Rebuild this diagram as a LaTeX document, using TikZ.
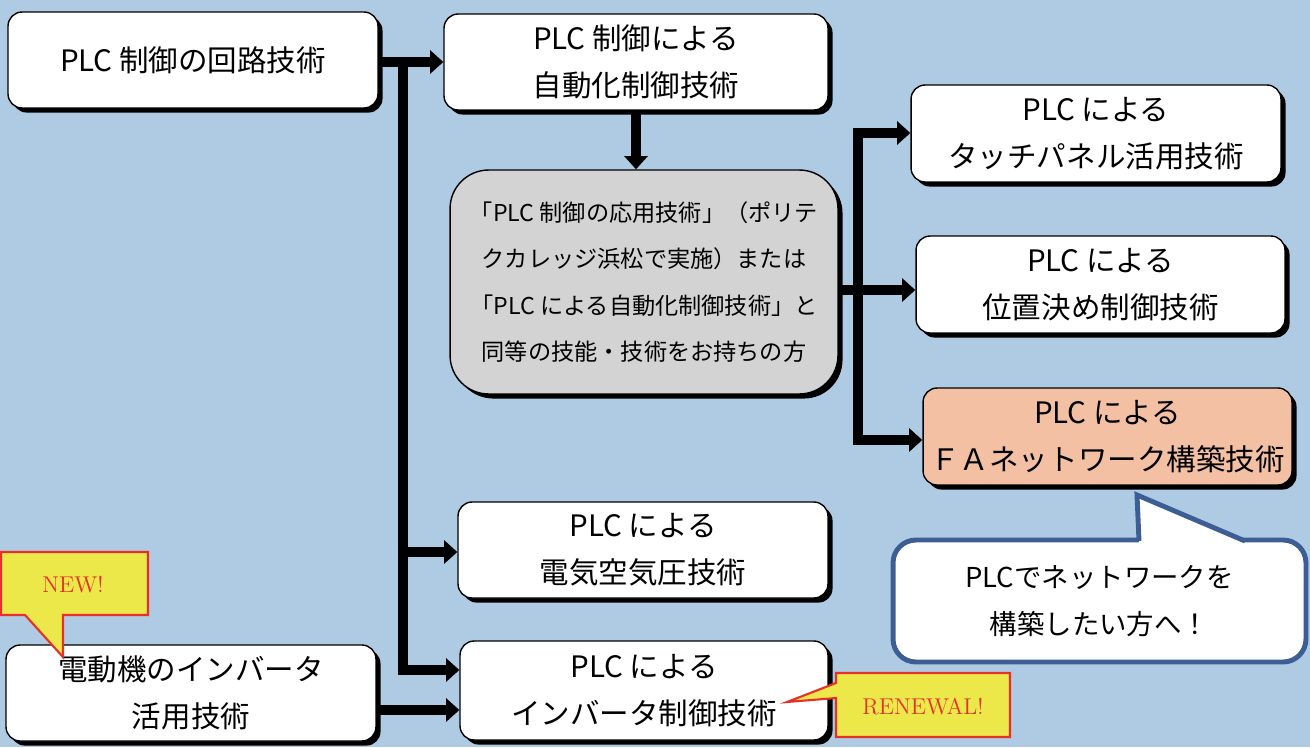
\documentclass[tikz,border=0pt]{standalone}
\usepackage{fontspec}
\newfontfamily\jp{Noto Sans CJK JP}
\usetikzlibrary{arrows.meta,shadows,calc}
\definecolor{bg}{HTML}{AFCBE3}
\definecolor{grayfill}{HTML}{D3D3D3}
\definecolor{orangefill}{HTML}{F3C0A4}
\definecolor{bubbleblue}{HTML}{3C5E95}
\definecolor{noteyellow}{HTML}{ECE84A}
\definecolor{notered}{HTML}{E8302A}
\begin{document}
\begin{tikzpicture}[x=0.02cm,y=-0.02cm,
  box/.style={draw=black, line width=0.8pt, fill=white, rounded corners=8pt,
    align=center, inner sep=0pt, anchor=center,
    font=\jp\fontsize{16.8}{26.6}\selectfont,
    drop shadow={shadow xshift=2.6pt, shadow yshift=-2.6pt, fill=black, opacity=1}},
  conn/.style={line width=5.67pt, line join=miter, -{Triangle[length=7.5pt,width=13pt]}},
  note/.style={draw=notered, line width=1.2pt, fill=noteyellow},
  notetext/.style={text=notered, font=\fontsize{13}{15}\selectfont, inner sep=0pt}]
\useasboundingbox (0,0) rectangle (1310,747);
\fill[bg] (0,0) rectangle (1310,747);

% boxes
\node[box, minimum width=7.4cm, minimum height=1.92cm] (A) at (193,60) {PLC 制御の回路技術};
\node[box, minimum width=7.68cm, minimum height=1.92cm] (B) at (636,62) {PLC 制御による\\自動化制御技術};
\node[box, fill=grayfill, rounded corners=22pt, minimum width=7.76cm, minimum height=4.48cm,
      font=\jp\fontsize{13.2}{26.5}\selectfont] (C) at (644,282)
  {「PLC 制御の応用技術」（ポリテ\\クカレッジ浜松で実施）または\\「PLC による自動化制御技術」と\\同等の技能・技術をお持ちの方};
\node[box, minimum width=7.4cm, minimum height=1.94cm] (D) at (1096,133.5) {PLC による\\タッチパネル活用技術};
\node[box, minimum width=7.38cm, minimum height=1.94cm] (E) at (1100.5,284.5) {PLC による\\位置決め制御技術};
\node[box, fill=orangefill, minimum width=7.38cm, minimum height=1.94cm] (F) at (1107.5,436.5) {PLC による\\ＦＡネットワーク構築技術};
\node[box, minimum width=7.4cm, minimum height=1.92cm] (G) at (643,550) {PLC による\\電気空気圧技術};
\node[box, minimum width=7.36cm, minimum height=1.98cm] (H) at (644,690.5) {PLC による\\インバータ制御技術};
\node[box, minimum width=7.4cm, minimum height=1.92cm] (I) at (191,693) {電動機のインバータ\\活用技術};

% junction coordinates
\coordinate (j1) at (403,62);
\coordinate (j2) at (403,552);
\coordinate (j3) at (403,670);
\coordinate (iy) at (420,710);
\coordinate (k1) at (858,133);
\coordinate (k2) at (858,290);
\coordinate (k3) at (858,440);

% connectors
\draw[conn] (j1 -| A.east) -- (j1 -| B.west);
\draw[conn, line cap=rect] (j1) -- (j3) -- (j3 -| H.west);
\draw[conn] (j2) -- (j2 -| G.west);
\draw[conn] (iy -| I.east) -- (iy -| H.west);
\draw[conn] (B.south) -- (B.south |- C.north);
\draw[conn] (k2 -| C.east) -- (k2 -| E.west);
\draw[conn, line cap=rect] (k3) -- (k1) -- (k1 -| D.west);
\draw[conn] (k3) -- (k3 -| F.west);

% speech bubble
\node[draw=bubbleblue, line width=2.8pt, fill=white, rounded corners=13pt,
      minimum width=8.26cm, minimum height=2.44cm, align=center, inner sep=0pt,
      font=\jp\fontsize{15.6}{27.2}\selectfont] (S) at (1099.5,601)
  {PLCでネットワークを\\構築したい方へ！};
\fill[white] (1139,540) -- (1137,495) -- (1243,540) -- (1243,549) -- (1139,549) -- cycle;
\draw[bubbleblue, line width=2.8pt, line join=miter] (1139,541) -- (1137,495) -- (1245,541);

% NEW callout
\draw[note] (1,552) -- (148,552) -- (148,615) -- (63,615) -- (63,657) -- (25,615) -- (1,615) -- cycle;
\node[notetext] (new) at (73,585) {NEW!};

% RENEWAL callout
\draw[note] (836,673) -- (1010,673) -- (1010,737) -- (836,737) -- (836,698) -- (787,702) -- (836,683) -- cycle;
\node[notetext] (renewal) at (923,707) {RENEWAL!};
\end{tikzpicture}
\end{document}
